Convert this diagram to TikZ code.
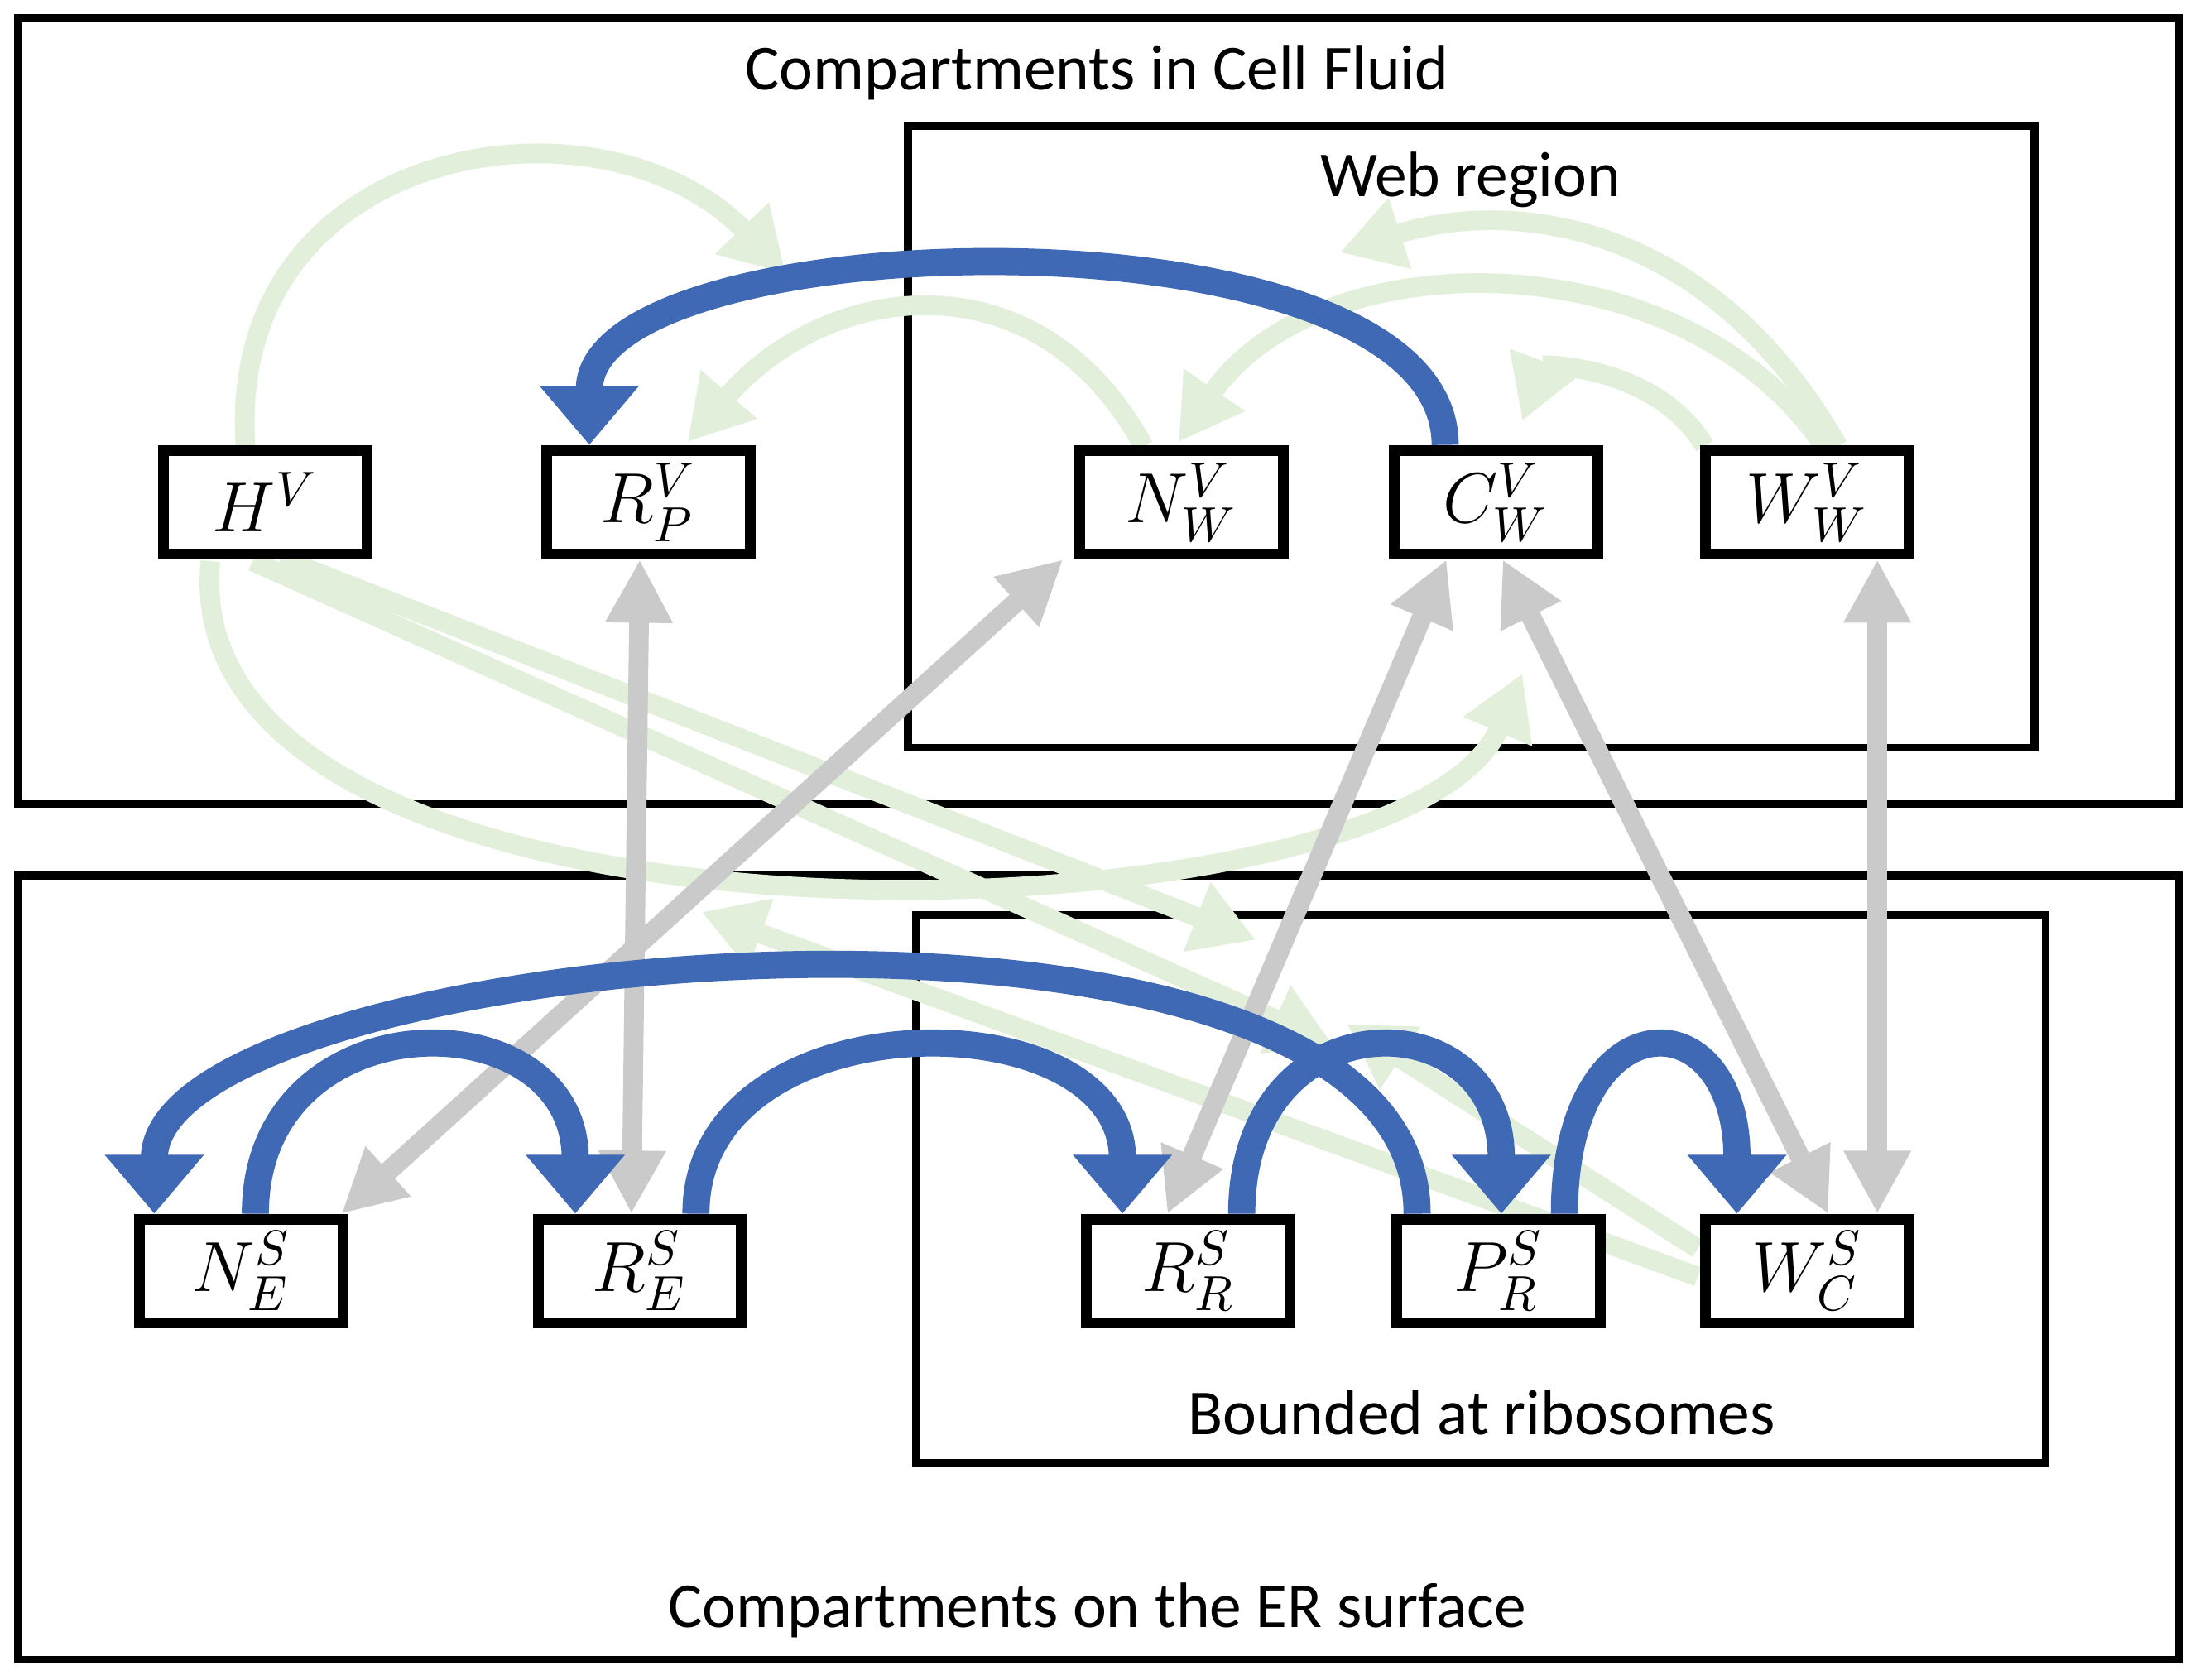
\documentclass[tikz,border=0pt]{standalone}
\usepackage{amsmath}
\usepackage{fontspec}
\setmainfont{Carlito}
\usetikzlibrary{arrows.meta,positioning}

\definecolor{flowblue}{HTML}{3F69B5}
\definecolor{flowgray}{HTML}{CACACA}
\definecolor{flowgreen}{HTML}{E2EFDA}

\tikzset{
  comp/.style={draw, line width=2.2pt, minimum width=1.45cm, minimum height=0.74cm,
    inner sep=0pt, fill=white, font=\Large},
  region/.style={draw, line width=1.6pt},
  rtext/.style={font=\fontsize{13}{15}\selectfont},
  blueflow/.style={flowblue, line width=5.5pt,
    -{Triangle[length=0.42cm,width=0.68cm]}},
  grayflow/.style={flowgray, line width=4pt,
    {Triangle[length=0.45cm,width=0.45cm]}-{Triangle[length=0.45cm,width=0.45cm]}},
  greenflow/.style={flowgreen, line width=4pt,
    -{Triangle[length=0.45cm,width=0.5cm]}},
}

\begin{document}
\begin{tikzpicture}
  \useasboundingbox (0,0) rectangle (15.68,-11.97);

  % regions
  \draw[region] (0.13,-0.13) rectangle (15.53,-5.73);
  \draw[region] (6.47,-0.90) rectangle (14.50,-5.33);
  \draw[region] (0.13,-6.24) rectangle (15.53,-11.83);
  \draw[region] (6.53,-6.52) rectangle (14.58,-10.43);
  \node[rtext] (cellfluid) at (7.82,-0.52) {Compartments in Cell Fluid};
  \node[rtext] (webregion) at (10.48,-1.28) {Web region};
  \node[rtext] (ribosomes) at (10.56,-10.07) {Bounded at ribosomes};
  \node[rtext] (ersurface) at (7.82,-11.48) {Compartments on the ER surface};

  % coordinates for free ends
  \coordinate (g1end) at (5.60,-1.95);
  \coordinate (g4end) at (9.55,-1.80);
  \coordinate (g7end) at (10.85,-4.80);
  \coordinate (g5end) at (8.95,-6.70);
  \coordinate (g8end) at (9.50,-7.45);
  \coordinate (g9end) at (5.00,-6.50);

  % green flows (background)
  \begin{scope}[every path/.style={greenflow}]
    \draw (1.75,-3.18) .. controls (1.6,-1.0) and (4.3,-0.6) .. (g1end);
    \draw (1.50,-4.00) .. controls (1.2,-7.0) and (10.0,-6.8) .. (g7end);
    \draw (8.15,-3.18) .. controls (7.4,-1.8) and (5.9,-2.0) .. (4.90,-3.15);
    \draw (13.00,-3.18) .. controls (12.0,-1.7) and (9.4,-1.7) .. (8.40,-3.15);
    \draw (13.10,-3.18) .. controls (12.2,-1.6) and (10.8,-1.4) .. (g4end);
    \draw (12.15,-3.18) .. controls (11.8,-2.6) and (11.0,-2.6) .. (10.85,-3.00);
    \draw (2.00,-3.98) -- (g5end);
    \draw (1.80,-4.00) -- (g8end);
    \draw (12.10,-9.10) -- (g9end);
    \draw (12.10,-8.90) -- (9.60,-7.30);
  \end{scope}

  % compartments
  \node[comp] (HV)  at (1.89,-3.58) {$H^{V}$};
  \node[comp] (RPV) at (4.62,-3.58) {$R_{P}^{V}$};
  \node[comp] (NWV) at (8.42,-3.58) {$N_{W}^{V}$};
  \node[comp] (CWV) at (10.66,-3.58) {$C_{W}^{V}$};
  \node[comp] (WWV) at (12.88,-3.58) {$W_{W}^{V}$};
  \node[comp] (NES) at (1.72,-9.06) {$N_{E}^{S}$};
  \node[comp] (RES) at (4.56,-9.06) {$R_{E}^{S}$};
  \node[comp] (RRS) at (8.47,-9.06) {$R_{R}^{S}$};
  \node[comp] (PRS) at (10.68,-9.06) {$P_{R}^{S}$};
  \node[comp] (WCS) at (12.88,-9.06) {$W_{C}^{S}$};

  % gray exchanges
  \draw[grayflow] ([xshift=-0.06cm]RPV.south) -- ([xshift=-0.06cm]RES.north);
  \draw[grayflow] ([xshift=-0.08cm]NWV.south west) -- ([xshift=-0.05cm]NES.north east);
  \draw[grayflow] ([xshift=-0.35cm]CWV.south) -- ([xshift=-0.15cm]RRS.north);
  \draw[grayflow] ([xshift=0.05cm]CWV.south) -- ([xshift=0.15cm]WCS.north);
  \draw[grayflow] ([xshift=0.50cm]WWV.south) -- ([xshift=0.50cm]WCS.north);

  % blue flows
  \draw[blueflow] ([xshift=-0.36cm]CWV.north) .. controls +(0,1.75) and +(0,1.6) .. ([xshift=-0.42cm]RPV.north);
  \draw[blueflow] ([xshift=0.10cm]NES.north) .. controls +(0,1.55) and +(0,1.55) .. ([xshift=-0.46cm]RES.north);
  \draw[blueflow] ([xshift=0.40cm]RES.north) .. controls +(0,1.55) and +(0,1.55) .. ([xshift=-0.47cm]RRS.north);
  \draw[blueflow] ([xshift=0.38cm]RRS.north) .. controls +(0,1.55) and +(0,1.55) .. ([xshift=0.02cm]PRS.north);
  \draw[blueflow] ([xshift=0.47cm]PRS.north) .. controls +(0,1.55) and +(0,1.55) .. ([xshift=-0.50cm]WCS.north);
  \draw[blueflow] ([xshift=-0.58cm]PRS.north) .. controls +(0,2.7) and +(0,1.9) .. ([xshift=-0.62cm]NES.north);
\end{tikzpicture}
\end{document}
